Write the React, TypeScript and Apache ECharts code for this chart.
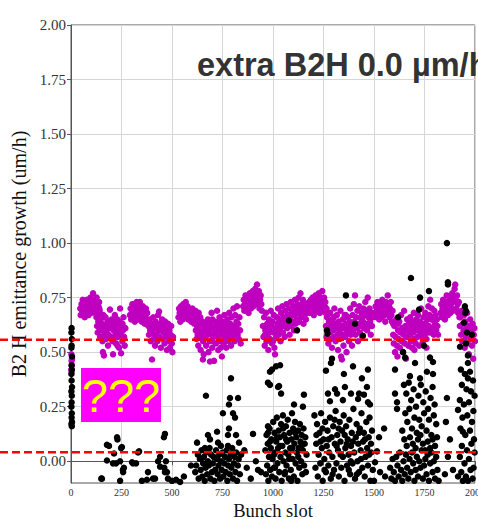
import React, { useEffect, useRef } from "react";
import * as echarts from "echarts";

// Tick values for the emittance-growth axis (the axis itself starts at -0.1)
const yTickValues = [0, 0.25, 0.5, 0.75, 1.0, 1.25, 1.5, 1.75, 2.0];
const xTickStep = 250;
// Reference growth levels drawn as dashed lines
const referenceLevels = [0.557, 0.041];
const titleText = "extra B2H 0.0 µm/h";
const boxText = "???";

// Bunch-by-bunch growth, scenario shown in magenta: [bunch slot, growth um/h]
const magentaPoints: [number, number][] = [
  [2,0.49],[3,0.46],[4,0.44],[2,0.42],[5,0.47],[3,0.41],
  [46,0.70],[48,0.67],[52,0.72],[55,0.69],[58,0.74],[60,0.71],[63,0.68],[66,0.73],[70,0.70],[72,0.67],[75,0.72],[78,0.74],[81,0.69],[84,0.71],[87,0.67],[90,0.73],[93,0.70],[96,0.75],[99,0.68],[102,0.72],[105,0.70],[109,0.77],[112,0.74],[115,0.71],[118,0.68],[121,0.73],[124,0.70],[127,0.75],[130,0.72],[133,0.68],[136,0.71],[139,0.73],[142,0.69],[145,0.66],
  [50,0.70],[62,0.73],[68,0.66],[80,0.72],[88,0.69],[100,0.74],[110,0.72],[120,0.70],[132,0.66],[140,0.70],
  [126,0.66],[129,0.62],[132,0.59],[135,0.64],[138,0.68],[141,0.61],[144,0.57],[147,0.65],[150,0.60],[153,0.63],[156,0.55],[158,0.50],[160,0.67],[163,0.485],[165,0.58],[168,0.62],[171,0.66],[174,0.56],[177,0.60],[180,0.64],[183,0.53],[186,0.58],[189,0.62],[193,0.695],[196,0.57],[199,0.61],[202,0.65],[205,0.55],[208,0.49],[211,0.60],[214,0.63],[217,0.67],[220,0.58],[223,0.54],[226,0.62],[229,0.65],[232,0.57],[235,0.60],[238,0.52],[241,0.64],[243,0.70],[246,0.58],[248,0.495],[251,0.62],[254,0.55],[257,0.60],[260,0.66],[263,0.57],[266,0.53],[269,0.61],
  [140,0.65],[150,0.67],[170,0.59],[185,0.64],[195,0.63],[210,0.56],[225,0.59],[240,0.61],[255,0.63],[230,0.53],
  [292,0.67],[295,0.70],[298,0.65],[301,0.68],[304,0.72],[307,0.66],[310,0.69],[313,0.71],[316,0.64],[319,0.67],[322,0.70],[325,0.73],[328,0.68],[331,0.65],[334,0.71],[337,0.69],[341,0.73],[344,0.67],[347,0.70],[350,0.64],[353,0.68],[356,0.71],[359,0.66],[362,0.69],[365,0.63],[368,0.67],[371,0.70],[374,0.65],[377,0.68],[380,0.64],
  [383,0.62],[386,0.58],[389,0.65],[392,0.60],[395,0.55],[398,0.63],[401,0.466],[404,0.59],[407,0.66],[410,0.56],[413,0.61],[416,0.53],[419,0.64],[422,0.58],[425,0.62],[428,0.55],[431,0.67],[434,0.60],[436,0.686],[439,0.57],[442,0.63],[445,0.52],[448,0.60],[451,0.65],[454,0.56],[457,0.62],[460,0.59],[463,0.54],[466,0.64],[469,0.58],[472,0.61],[475,0.51],[478,0.57],[481,0.63],[484,0.55],[487,0.60],[490,0.52],[493,0.58],[496,0.62],[499,0.54],[502,0.50],[505,0.57],
  [395,0.61],[415,0.57],[440,0.60],[465,0.60],[480,0.58],
  [532,0.66],[535,0.70],[538,0.68],[541,0.64],[544,0.71],[547,0.67],[550,0.69],[553,0.65],[556,0.72],[559,0.68],[562,0.66],[565,0.70],[568,0.73],[571,0.67],[574,0.69],[577,0.71],[580,0.65],[583,0.68],[586,0.70],[589,0.66],[592,0.69],[595,0.64],[598,0.67],[601,0.70],[604,0.65],[607,0.68],[610,0.63],[613,0.66],[616,0.69],[619,0.64],[622,0.67],[625,0.62],[628,0.65],[632,0.68],[636,0.63],[640,0.66],
  [618,0.60],[621,0.56],[624,0.63],[627,0.58],[630,0.53],[633,0.61],[636,0.62],[639,0.57],[642,0.51],[645,0.62],[648,0.59],[651,0.64],[654,0.55],[657,0.49],[660,0.60],[663,0.63],[666,0.57],[669,0.53],[672,0.62],[675,0.58],[678,0.65],[681,0.50],[684,0.60],[687,0.55],[690,0.63],[693,0.58],[696,0.68],[699,0.52],[702,0.61],[705,0.57],[708,0.46],[711,0.64],[714,0.59],[717,0.54],[720,0.62],[723,0.69],[726,0.57],[729,0.51],[732,0.60],[735,0.66],[738,0.55],[741,0.62],[744,0.58],[747,0.48],[750,0.64],[753,0.60],[756,0.54],[759,0.67],[762,0.59],[765,0.62],[768,0.52],[771,0.57],[774,0.65],[777,0.61],[780,0.55],[783,0.68],[786,0.59],[789,0.63],[792,0.53],[795,0.66],[798,0.60],[801,0.57],[804,0.70],[807,0.62],[810,0.55],[813,0.67],[816,0.59],[819,0.64],[822,0.71],[825,0.58],[828,0.63],[831,0.56],[834,0.66],[837,0.60],[840,0.54],
  [650,0.56],[680,0.62],[700,0.65],[730,0.64],[760,0.56],[790,0.57],[820,0.61],[700,0.55],[740,0.52],[770,0.63],[688,0.457],[653,0.466],
  [852,0.71],[855,0.74],[858,0.69],[861,0.72],[864,0.76],[867,0.70],[870,0.73],[873,0.75],[876,0.71],[879,0.68],[882,0.74],[885,0.77],[888,0.72],[891,0.70],[894,0.75],[897,0.73],[900,0.78],[903,0.71],[906,0.74],[909,0.76],[912,0.79],[915,0.72],[918,0.75],[921,0.81],[924,0.77],[927,0.73],[930,0.78],[933,0.70],[936,0.74],[939,0.76],[942,0.72],[945,0.69],
  [950,0.62],[953,0.57],[956,0.66],[959,0.53],[962,0.60],[965,0.68],[968,0.55],[971,0.63],[974,0.58],[977,0.51],[980,0.65],[983,0.60],[986,0.56],[989,0.69],[992,0.62],[995,0.54],[998,0.64],[1001,0.59],[1004,0.67],[1007,0.52],[1010,0.49],[1013,0.61],[1016,0.57],[1019,0.66],[1022,0.63],[1025,0.70],[1028,0.58],[1031,0.65],[1034,0.61],[1037,0.55],[1040,0.68],[1043,0.64],[1046,0.71],[1049,0.59],[1052,0.66],[1055,0.62],[1058,0.57],[1061,0.69],[1064,0.65],[1067,0.72],[1070,0.61],[1073,0.67],[1076,0.63],[1079,0.70],[1082,0.58],[1085,0.66],[1088,0.73],[1091,0.62],[1094,0.68],[1097,0.64],[1100,0.71],[1103,0.60],[1106,0.67],[1109,0.74],[1112,0.63],[1115,0.69],[1118,0.65],[1121,0.72],[1124,0.68],[1127,0.75],[1130,0.64],[1133,0.70],[1136,0.77],[1139,0.66],[1142,0.72],[1145,0.69],[1148,0.74],[1151,0.63],[1154,0.70],[1157,0.67],[1160,0.72],[1163,0.65],[1166,0.69],
  [960,0.58],[975,0.62],[1000,0.55],[1020,0.60],[1050,0.63],[1080,0.66],[1110,0.70],[1140,0.69],
  [1175,0.70],[1178,0.73],[1181,0.68],[1184,0.71],[1187,0.74],[1190,0.69],[1193,0.72],[1196,0.75],[1199,0.70],[1202,0.67],[1205,0.73],[1208,0.71],[1211,0.76],[1214,0.69],[1217,0.72],[1220,0.74],[1223,0.70],[1226,0.77],[1229,0.73],[1232,0.68],[1235,0.75],[1238,0.71],[1241,0.74],[1244,0.78],[1247,0.72],[1250,0.69],[1253,0.75],[1256,0.71],[1259,0.73],[1262,0.68],[1265,0.70],[1268,0.66],
  [1262,0.62],[1265,0.57],[1268,0.66],[1271,0.60],[1274,0.54],[1277,0.64],[1280,0.59],[1283,0.68],[1286,0.56],[1289,0.62],[1292,0.52],[1295,0.65],[1298,0.60],[1301,0.57],[1304,0.70],[1307,0.63],[1310,0.55],[1313,0.61],[1316,0.67],[1319,0.58],[1322,0.51],[1325,0.64],[1328,0.60],[1331,0.56],[1334,0.69],[1337,0.48],[1340,0.62],[1343,0.58],[1346,0.65],[1349,0.53],[1352,0.61],[1355,0.67],[1358,0.57],[1361,0.63],[1364,0.50],[1367,0.59],[1370,0.66],[1373,0.61],[1376,0.55],[1379,0.64],[1382,0.70],[1385,0.58],[1388,0.62],[1391,0.53],[1394,0.67],[1397,0.60],[1400,0.72],[1403,0.64],[1406,0.76],[1409,0.58],[1412,0.66],[1415,0.61],[1418,0.69],[1421,0.55],[1424,0.63],[1427,0.71],[1430,0.59],[1433,0.66],[1436,0.62],[1439,0.68],[1442,0.57],[1445,0.64],[1448,0.70],[1451,0.61],[1454,0.67],[1457,0.73],[1460,0.63],[1463,0.69],[1466,0.60],[1469,0.75],[1472,0.66],[1475,0.62],[1478,0.70],[1481,0.64],[1484,0.58],[1487,0.68],[1490,0.62],[1493,0.66],
  [1290,0.60],[1320,0.62],[1350,0.58],[1380,0.60],[1410,0.63],[1440,0.65],[1470,0.68],[1300,0.66],[1330,0.59],[1360,0.67],[1341,0.466],
  [1505,0.68],[1508,0.71],[1511,0.66],[1514,0.69],[1517,0.73],[1520,0.67],[1523,0.70],[1526,0.65],[1529,0.72],[1532,0.68],[1535,0.71],[1538,0.66],[1541,0.74],[1544,0.69],[1547,0.72],[1550,0.67],[1553,0.70],[1556,0.64],[1559,0.73],[1562,0.68],[1565,0.71],[1568,0.76],[1571,0.69],[1574,0.72],[1577,0.66],[1580,0.70],[1583,0.73],[1586,0.67],[1589,0.64],[1592,0.69],[1595,0.63],
  [1595,0.58],[1598,0.54],[1601,0.62],[1604,0.50],[1607,0.57],[1610,0.65],[1613,0.53],[1616,0.48],[1619,0.60],[1622,0.56],[1625,0.64],[1628,0.52],[1631,0.59],[1634,0.67],[1637,0.55],[1640,0.61],[1643,0.50],[1646,0.58],[1649,0.69],[1652,0.54],[1655,0.62],[1658,0.47],[1661,0.57],[1664,0.65],[1667,0.60],[1670,0.53],[1673,0.63],[1676,0.58],[1679,0.66],[1682,0.55],[1685,0.61],[1688,0.52],[1691,0.64],[1694,0.59],[1697,0.68],[1700,0.56],[1703,0.62],[1706,0.54],[1709,0.65],[1712,0.60],[1715,0.57],[1718,0.67],[1721,0.62],[1724,0.53],[1727,0.64],[1730,0.59],[1733,0.70],[1736,0.57],[1739,0.63],[1742,0.55],[1745,0.66],[1748,0.61],[1751,0.58],[1754,0.68],[1757,0.63],[1760,0.56],[1763,0.65],[1766,0.60],[1769,0.71],[1772,0.62],[1775,0.67],[1778,0.74],[1781,0.59],[1784,0.65],[1787,0.70],[1790,0.61],[1793,0.66],[1796,0.58],[1799,0.69],[1802,0.63],[1805,0.67],[1808,0.60],[1811,0.65],[1814,0.62],[1817,0.58],
  [1620,0.63],[1650,0.60],[1680,0.58],[1710,0.63],[1740,0.60],[1770,0.59],[1800,0.64],[1640,0.55],[1700,0.51],[1760,0.52],
  [1830,0.68],[1833,0.72],[1836,0.66],[1839,0.70],[1842,0.74],[1845,0.68],[1848,0.71],[1851,0.65],[1854,0.73],[1857,0.69],[1860,0.76],[1863,0.70],[1866,0.67],[1869,0.73],[1872,0.71],[1875,0.75],[1878,0.68],[1881,0.72],[1884,0.70],[1887,0.77],[1890,0.73],[1893,0.69],[1896,0.75],[1899,0.79],[1902,0.81],[1905,0.74],[1908,0.70],[1911,0.76],[1914,0.72],[1917,0.68],[1920,0.73],[1923,0.66],
  [1925,0.62],[1928,0.66],[1931,0.58],[1934,0.69],[1937,0.55],[1940,0.63],[1943,0.60],[1946,0.67],[1949,0.52],[1952,0.64],[1955,0.57],[1958,0.61],[1961,0.68],[1964,0.54],[1967,0.62],[1970,0.49],[1973,0.59],[1976,0.65],[1979,0.56],[1982,0.60],[1985,0.53],[1988,0.63],[1991,0.47],[1994,0.58],[1997,0.61],[2000,0.55],
];

// Bunch-by-bunch growth, scenario shown in black: [bunch slot, growth um/h]
const blackPoints: [number, number][] = [
  [3,0.61],[2,0.59],[4,0.56],[3,0.53],[2,0.52],[5,0.48],[3,0.44],[4,0.42],[2,0.40],[3,0.37],[5,0.34],[2,0.32],[4,0.30],[3,0.27],[2,0.25],[4,0.22],[3,0.20],[5,0.18],[2,0.17],[4,0.16],
  [230,0.10],[188,0.07],[248,0.06],[213,0.035],[178,0.003],[243,0.0],[223,-0.01],[257,-0.04],[258,-0.05],[150,-0.08],[243,-0.09],[302,-0.005],[322,-0.01],[337,0.045],[381,-0.05],[376,-0.085],[416,-0.08],[431,0.0],[441,0.02],[441,-0.025],[460,0.11],[465,0.125],[465,-0.05],[475,-0.05],
  [178,0.075],[228,0.11],[252,0.065],[208,-0.01],[262,-0.03],[307,-0.01],[332,0.04],[153,-0.08],[351,-0.09],[406,-0.08],
  [480,-0.08],[500,-0.09],[520,-0.085],[559,-0.07],[594,-0.02],[540,-0.095],[470,0.0],[462,-0.03],
  [792,0.38],[668,0.30],[787,0.29],[827,0.29],[782,0.26],[752,0.22],[802,0.22],[812,0.20],[782,0.15],[723,0.135],[678,0.12],[777,0.12],[817,0.12],[624,0.085],[688,0.10],[728,0.085],[832,0.085],[663,0.06],[742,0.07],[777,0.07],
  [615,-0.05],[620,-0.02],[628,0.03],[632,-0.08],[638,0.01],[642,-0.04],[646,0.05],[650,-0.07],[654,-0.01],[658,0.02],[662,-0.09],[666,-0.03],[670,0.04],[674,-0.06],[678,0.00],[682,-0.02],[686,0.06],[690,-0.08],[694,0.03],[698,-0.05],[702,-0.01],[706,0.02],[710,-0.09],[714,-0.04],[718,0.05],[722,0.01],[726,-0.06],[730,-0.02],[734,0.03],[738,-0.08],[742,0.00],[746,-0.04],[750,0.04],[754,-0.07],[758,-0.01],[762,0.02],[766,-0.05],[770,0.05],[774,-0.09],[778,-0.02],[782,0.01],[786,-0.06],[790,0.03],[794,-0.03],[798,0.06],[802,-0.08],[806,-0.01],[810,0.02],[814,-0.05],[818,0.04],[822,-0.09],[826,-0.02],[830,0.01],[836,-0.06],[842,0.03],
  [858,0.05],[870,-0.03],[901,0.125],[926,-0.04],[941,-0.05],[890,-0.08],[915,0.00],
  [975,0.36],[985,0.41],[1015,0.435],[1035,0.44],[995,0.42],[985,0.35],[1030,0.345],[1025,0.34],[1040,0.31],[1153,0.305],[1104,0.26],[1148,0.25],[975,0.16],[975,0.13],[1079,0.645],[1119,0.60],
  [962,0.05],[965,-0.06],[968,0.12],[971,-0.02],[974,0.08],[977,-0.09],[980,0.02],[983,0.15],[986,-0.04],[989,0.06],[992,0.10],[995,-0.07],[998,0.01],[1001,0.18],[1004,-0.03],[1007,0.13],[1010,0.04],[1013,-0.08],[1016,0.09],[1019,0.20],[1022,-0.01],[1025,0.06],[1028,0.14],[1031,-0.05],[1034,0.11],[1037,0.02],[1040,0.17],[1043,-0.09],[1046,0.07],[1049,0.21],[1052,0.00],[1055,0.12],[1058,-0.06],[1061,0.04],[1064,0.16],[1067,-0.02],[1070,0.09],[1073,0.19],[1076,0.03],[1079,-0.08],[1082,0.13],[1085,0.06],[1088,-0.04],[1091,0.10],[1094,0.22],[1097,0.01],[1100,0.15],[1103,-0.07],[1106,0.08],[1109,0.18],[1112,-0.01],[1115,0.11],[1118,0.04],[1121,-0.09],[1124,0.14],[1127,0.06],[1130,-0.03],[1133,0.17],[1136,0.09],[1139,0.00],[1142,0.12],[1145,-0.06],[1148,0.05],[1151,0.15],[1154,-0.02],[1157,0.08],[1160,0.11],[1163,-0.05],[1166,0.03],
  [985,0.09],[1005,0.03],[1020,0.11],[1035,0.07],[1050,0.15],[1065,0.10],[1080,0.01],[1095,0.06],[1110,0.13],[1125,0.02],[1140,0.07],[1010,-0.03],[1060,-0.05],[1090,-0.09],
  [1361,0.76],[1267,0.60],[1270,0.585],[1406,0.63],[1445,0.575],[1292,0.47],[1287,0.45],[1470,0.42],[1351,0.40],[1262,0.415],[1440,0.38],[1356,0.34],[1465,0.34],[1307,0.33],[1317,0.31],[1272,0.31],[1386,0.31],[1426,0.31],[1421,0.285],[1450,0.305],[1282,0.275],[1346,0.28],[1470,0.27],[1396,0.435],[1480,0.26],
  [1205,0.21],[1210,-0.03],[1214,0.08],[1218,0.17],[1222,-0.07],[1226,0.03],[1230,0.13],[1234,-0.01],[1238,0.22],[1242,0.06],[1246,-0.09],[1250,0.10],[1254,0.01],[1258,0.18],[1262,-0.05],[1266,0.07],[1270,0.14],[1274,-0.02],[1278,0.04],[1282,0.20],[1286,-0.08],[1290,0.11],[1294,0.02],[1298,0.16],[1302,-0.04],[1306,0.08],[1310,0.23],[1314,-0.01],[1318,0.12],[1322,0.05],[1326,-0.07],[1330,0.18],[1334,0.09],[1338,-0.03],[1342,0.14],[1346,0.02],[1350,0.21],[1354,-0.09],[1358,0.06],[1362,0.16],[1366,-0.02],[1370,0.10],[1374,0.03],[1378,0.19],[1382,-0.06],[1386,0.07],[1390,0.13],[1394,-0.01],[1398,0.24],[1402,0.04],[1406,-0.08],[1410,0.11],[1414,0.17],[1418,0.00],[1422,0.08],[1426,-0.05],[1430,0.15],[1434,0.05],[1438,0.22],[1442,-0.03],[1446,0.09],[1450,0.13],[1454,-0.07],[1458,0.02],[1462,0.18],[1466,0.06],[1470,-0.02],[1474,0.11],[1478,0.20],[1482,-0.09],[1486,0.04],[1490,0.14],[1494,-0.04],
  [1215,0.12],[1235,0.09],[1255,-0.04],[1275,0.10],[1295,-0.06],[1315,0.07],[1335,0.03],[1355,0.12],[1375,-0.04],[1395,0.09],[1415,-0.06],[1435,0.01],[1455,0.10],[1475,0.03],[1245,0.15],[1305,0.19],[1365,0.08],[1425,0.13],[1485,0.08],[1325,0.15],[1385,0.00],
  [1550,0.15],[1525,0.11],[1505,-0.005],[1530,-0.05],[1555,-0.07],[1500,-0.09],[1515,0.045],
  [1683,0.84],[1772,0.78],[1728,0.75],[1619,0.66],[1723,0.695],[1747,0.53],[1644,0.50],[1654,0.475],[1777,0.475],[1792,0.455],[1703,0.45],[1604,0.42],[1762,0.41],[1792,0.40],[1678,0.39],[1728,0.38],[1614,0.27],[1604,0.31],[1614,0.24],
  [1648,0.35],[1660,0.31],[1672,0.36],[1684,0.28],[1696,0.33],[1708,0.25],[1720,0.30],[1732,0.35],[1744,0.27],[1756,0.32],[1768,0.24],[1780,0.29],[1790,0.34],[1800,0.26],[1655,0.22],[1665,0.18],[1675,0.24],[1688,0.15],[1700,0.20],[1712,0.13],[1724,0.19],[1736,0.16],[1748,0.22],[1760,0.14],[1772,0.19],[1784,0.12],[1796,0.21],[1808,0.17],[1640,0.14],[1650,0.10],[1662,0.07],[1678,0.11],[1692,0.08],[1706,0.06],[1718,0.10],[1730,0.12],[1742,0.08],[1754,0.05],[1766,0.09],[1778,0.06],[1790,0.10],[1802,0.07],[1812,0.11],
  [1580,-0.03],[1586,-0.08],[1592,0.01],[1598,-0.05],[1604,-0.09],[1610,0.02],[1616,-0.02],[1622,-0.07],[1628,0.04],[1634,-0.04],[1640,-0.09],[1646,0.00],[1652,-0.06],[1658,0.03],[1664,-0.03],[1670,-0.08],[1676,0.01],[1682,-0.05],[1688,0.04],[1694,-0.01],[1700,-0.09],[1706,-0.04],[1712,0.02],[1718,-0.07],[1724,0.00],[1730,-0.03],[1736,0.05],[1742,-0.08],[1748,-0.02],[1754,0.01],[1760,-0.06],[1766,0.03],[1772,-0.09],[1778,-0.01],[1784,0.04],[1790,-0.05],[1796,0.00],[1802,-0.08],[1808,0.02],[1814,-0.04],[1820,-0.09],
  [1861,1.00],[1866,0.82],[1866,0.81],[1861,0.29],[1856,0.18],[1876,0.10],[1866,0.02],[1891,-0.04],[1851,-0.06],[1916,-0.07],
  [1950,0.71],[1955,0.69],[1952,0.68],[1945,0.635],[1960,0.59],[1985,0.58],[1955,0.54],[1926,0.525],[1965,0.485],[1965,0.45],[1965,0.38],[1916,0.235],[1940,0.135],
  [1930,0.42],[1950,0.40],[1975,0.41],[1990,0.37],[1935,0.35],[1958,0.33],[1980,0.32],[1998,0.30],[1925,0.28],[1945,0.26],[1970,0.27],[1992,0.23],[1938,0.20],[1962,0.21],[1985,0.18],[1928,0.15],[1952,0.12],[1975,0.14],[1995,0.10],[1935,0.07],[1960,0.05],[1982,0.08],[1925,0.02],[1948,-0.01],[1970,0.01],[1993,-0.03],[1932,-0.05],[1955,-0.07],[1978,-0.04],[1940,-0.09],[1965,-0.09],[1988,-0.08],[1998,0.04],
];

const SERIF = '"Liberation Serif", "DejaVu Serif", serif';
const SANS = '"Liberation Sans", Arial, sans-serif';
const WIDTH = 478;
const HEIGHT = 519;

export default function App() {
  const ref = useRef<HTMLDivElement>(null);

  useEffect(() => {
    if (!ref.current) return;
    const chart = echarts.init(ref.current, null, { renderer: "svg" });
    chart.setOption({
      animation: false,
      backgroundColor: "#ffffff",
      grid: {
        left: 71,
        right: 3,
        top: 25,
        bottom: 36,
        outerBoundsMode: "none",
        containLabel: false,
        show: true,
        borderColor: "#555555",
        borderWidth: 1,
        backgroundColor: "transparent",
      },
      xAxis: {
        type: "value",
        min: 0,
        max: 2000,
        interval: xTickStep,
        name: "Bunch slot",
        nameLocation: "middle",
        nameGap: 12,
        nameTextStyle: { fontFamily: SERIF, fontSize: 18.5, lineHeight: 19, color: "#111" },
        axisLine: { show: true, lineStyle: { color: "#555555" } },
        axisTick: { show: true, length: 4, lineStyle: { color: "#555555" } },
        axisLabel: {
          fontFamily: SERIF,
          fontSize: 10,
          color: "#333",
          margin: 4,
          formatter: (v: number) => String(v),
        },
        splitLine: { show: true, lineStyle: { color: "#d6d6d6", width: 1 } },
      },
      yAxis: {
        type: "value",
        min: -0.1,
        max: 2.0,
        name: "B2 H emittance growth (um/h)",
        nameLocation: "middle",
        nameRotate: 90,
        nameGap: 36,
        nameTextStyle: { fontFamily: SERIF, fontSize: 20, color: "#111" },
        axisLine: { show: true, lineStyle: { color: "#555555" } },
        axisTick: { show: true, length: 4, customValues: yTickValues, lineStyle: { color: "#555555" } },
        axisLabel: {
          customValues: yTickValues,
          fontFamily: SERIF,
          fontSize: 15,
          color: "#333",
          margin: 5,
          formatter: (v: number) => v.toFixed(2),
        },
        splitLine: { show: true, lineStyle: { color: "#d6d6d6", width: 1 } },
      },
      series: [
        {
          type: "scatter",
          data: magentaPoints,
          symbolSize: 6.5,
          itemStyle: { color: "#bf00bf", opacity: 1 },
          z: 2,
        },
        {
          type: "scatter",
          data: blackPoints,
          symbolSize: 6.5,
          itemStyle: { color: "#000000", opacity: 1 },
          z: 3,
        },
      ],
      graphic: [
        {
          id: "title",
          type: "text",
          x: 197,
          y: 65,
          z: 100,
          style: {
            text: titleText,
            font: `bold 32.5px ${SANS}`,
            fill: "#333333",
            verticalAlign: "middle",
          },
        },
        {
          id: "box",
          type: "rect",
          z: 100,
          shape: { x: 81, y: 368, width: 80, height: 54 },
          style: { fill: "#ff00ff" },
        },
        {
          id: "boxText",
          type: "text",
          z: 101,
          x: 121,
          y: 395,
          style: {
            text: boxText,
            font: `47px ${SANS}`,
            fill: "#ffff00",
            align: "center",
            verticalAlign: "middle",
          },
        },
      ],
    });

    // Dashed reference levels run across the whole figure width,
    // placed through the y axis scale.
    const levelLines = referenceLevels.map((v, i) => {
      const py = chart.convertToPixel({ yAxisIndex: 0 }, v) as number;
      return {
        id: `level${i}`,
        type: "line",
        z: 90,
        silent: true,
        shape: { x1: 0, y1: py, x2: WIDTH, y2: py },
        style: { stroke: "#ff0000", lineWidth: 2.5, lineDash: [8, 4] },
      };
    });
    chart.setOption({ graphic: levelLines });

    return () => chart.dispose();
  }, []);

  return (
    <div
      ref={ref}
      style={{ position: "fixed", left: 0, top: 0, width: WIDTH, height: HEIGHT }}
    />
  );
}
